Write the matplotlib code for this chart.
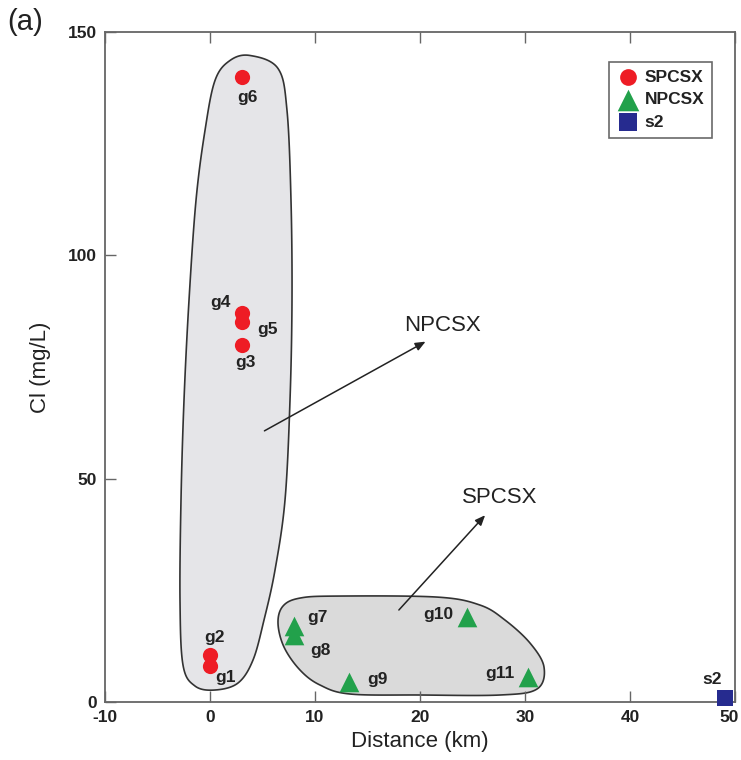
import numpy as np
import matplotlib
matplotlib.use("Agg")
import matplotlib.pyplot as plt
from matplotlib.patches import Polygon
from matplotlib.transforms import ScaledTranslation

plt.rcParams['font.family'] = ['Liberation Sans', 'DejaVu Sans']
plt.rcParams['axes.unicode_minus'] = False

# ---- data ----
sp_names = ["g1", "g2", "g3", "g4", "g5", "g6"]
sp_dist = [0, 0, 3, 3, 3, 3]
sp_cl = [8, 10.5, 80, 87, 85, 140]

np_names = ["g7", "g8", "g9", "g10", "g11"]
np_dist = [8, 8, 13.2, 24.5, 30.3]
np_cl = [17, 15, 4.5, 19, 5.5]

s2_name = ["s2"]
s2_dist = [49]
s2_cl = [1]

x_ticks = [-10, 0, 10, 20, 30, 40, 50]
y_ticks = [0, 50, 100, 150]

# ---- figure ----
W, H = 741, 760
fig = plt.figure(figsize=(W / 100, H / 100), dpi=100)
L, R, T, B = 105, 735, 32, 702
ax = fig.add_axes([L / W, 1 - B / H, (R - L) / W, (B - T) / H])
ax.set_xlim(-10, 50)
ax.set_ylim(0, 150)


def px2data(px, py):
    return ((px - 210) / 10.5, (702 - py) / 4.47)


def catmull(pts, n=20):
    pts = np.asarray(pts, float)
    m = len(pts)
    out = []
    for i in range(m):
        p0, p1, p2, p3 = pts[i - 1], pts[i], pts[(i + 1) % m], pts[(i + 2) % m]
        t = np.linspace(0, 1, n, endpoint=False)[:, None]
        out.append(0.5 * ((2 * p1) + (-p0 + p2) * t + (2 * p0 - 5 * p1 + 4 * p2 - p3) * t ** 2
                          + (-p0 + 3 * p1 - 3 * p2 + p3) * t ** 3))
    return np.vstack(out)


left_outline_px = [(250, 55), (278, 68), (287, 110), (291, 200), (292, 300), (290, 400),
                   (285, 500), (275, 570), (264, 620), (253, 660), (238, 683), (215, 690),
                   (195, 686), (183, 665), (180, 600), (181, 500), (184, 400), (189, 300),
                   (196, 200), (205, 130), (215, 80), (230, 60)]
right_outline_px = [(283, 606), (300, 598), (337, 596), (437, 597), (480, 605), (505, 620),
                    (530, 643), (544, 667), (537, 689), (500, 695), (420, 695), (350, 694),
                    (320, 685), (300, 670), (284, 647), (278, 623)]

for pts, fc in [(left_outline_px, "#e5e5e8"), (right_outline_px, "#dadada")]:
    d = np.array([px2data(*p) for p in pts])
    curve = catmull(d)
    ax.add_patch(Polygon(curve, closed=True, facecolor=fc, edgecolor="#333333",
                         linewidth=1.2, zorder=1))

ax.scatter(sp_dist, sp_cl, s=120, marker="o", color="#ee1c25", label="SPCSX", zorder=3,
           linewidths=0)
ax.scatter(np_dist, np_cl, s=200, marker="^", color="#22a14b", label="NPCSX", zorder=3,
           linewidths=0)
ax.scatter(s2_dist, s2_cl, s=140, marker="s", color="#262b8f", label="s2", zorder=3,
           linewidths=0, clip_on=False)

# point labels (offsets in points)
label_off = {"g1": (11, -8), "g2": (3, 13), "g3": (3, -13), "g4": (-15, 8), "g5": (19, -5),
             "g6": (4, -15), "g7": (17, 6), "g8": (19, -11), "g9": (21, 2),
             "g10": (-21, 2), "g11": (-20, 3), "s2": (-9, 13)}
lab_kw = dict(fontsize=12.5, fontweight="bold", color="#222222", ha="center", va="center",
              textcoords="offset points", zorder=4)
for names, xs, ys in [(sp_names, sp_dist, sp_cl), (np_names, np_dist, np_cl),
                      (s2_name, s2_dist, s2_cl)]:
    for nm, xv, yv in zip(names, xs, ys):
        ax.annotate(nm, (xv, yv), xytext=label_off[nm], **lab_kw)

# arrows with group labels
arrow_kw = dict(arrowstyle="-|>,head_length=0.6,head_width=0.25", color="#222222", lw=1.1)
ax.annotate("", xy=px2data(428, 340), xytext=px2data(262, 432), arrowprops=arrow_kw)
ax.text(*px2data(443, 325), "NPCSX", fontsize=16, ha="center", va="center", color="#222222")
ax.annotate("", xy=px2data(487, 513), xytext=px2data(397, 612), arrowprops=arrow_kw)
ax.text(*px2data(500, 497), "SPCSX", fontsize=16, ha="center", va="center", color="#222222")

ax.set_xticks(x_ticks)
ax.set_yticks(y_ticks)
ax.tick_params(direction="in", length=8, width=1, color="#666666", top=True, right=False,
               labelsize=12.5, pad=6)
for lab in ax.get_xticklabels() + ax.get_yticklabels():
    lab.set_fontweight("bold")
    lab.set_color("#222222")
last = ax.get_xticklabels()[-1]
last.set_transform(last.get_transform() + ScaledTranslation(-6 / 100, 0, fig.dpi_scale_trans))
for sp in ax.spines.values():
    sp.set_color("#666666")
    sp.set_linewidth(1.3)

ax.set_xlabel("Distance (km)", fontsize=16, color="#222222", labelpad=4)
ax.set_ylabel("Cl (mg/L)", fontsize=16, color="#222222", labelpad=12)

leg = ax.legend(loc="upper right", bbox_to_anchor=((712 - L) / (R - L), 1 - (62 - T) / (B - T)),
                fontsize=12.5, frameon=True, fancybox=False, handletextpad=0.3,
                borderpad=0.45, labelspacing=0.42, handlelength=1.3, borderaxespad=0,
                markerscale=1.1)
leg.get_frame().set_edgecolor("#444444")
leg.get_frame().set_linewidth(1.2)
for t in leg.get_texts():
    t.set_fontweight("bold")
    t.set_color("#222222")

fig.text(25 / W, 1 - 22 / H, "(a)", fontsize=21, ha="center", va="center", color="#222222")

fig.savefig("out.png", dpi=100)
